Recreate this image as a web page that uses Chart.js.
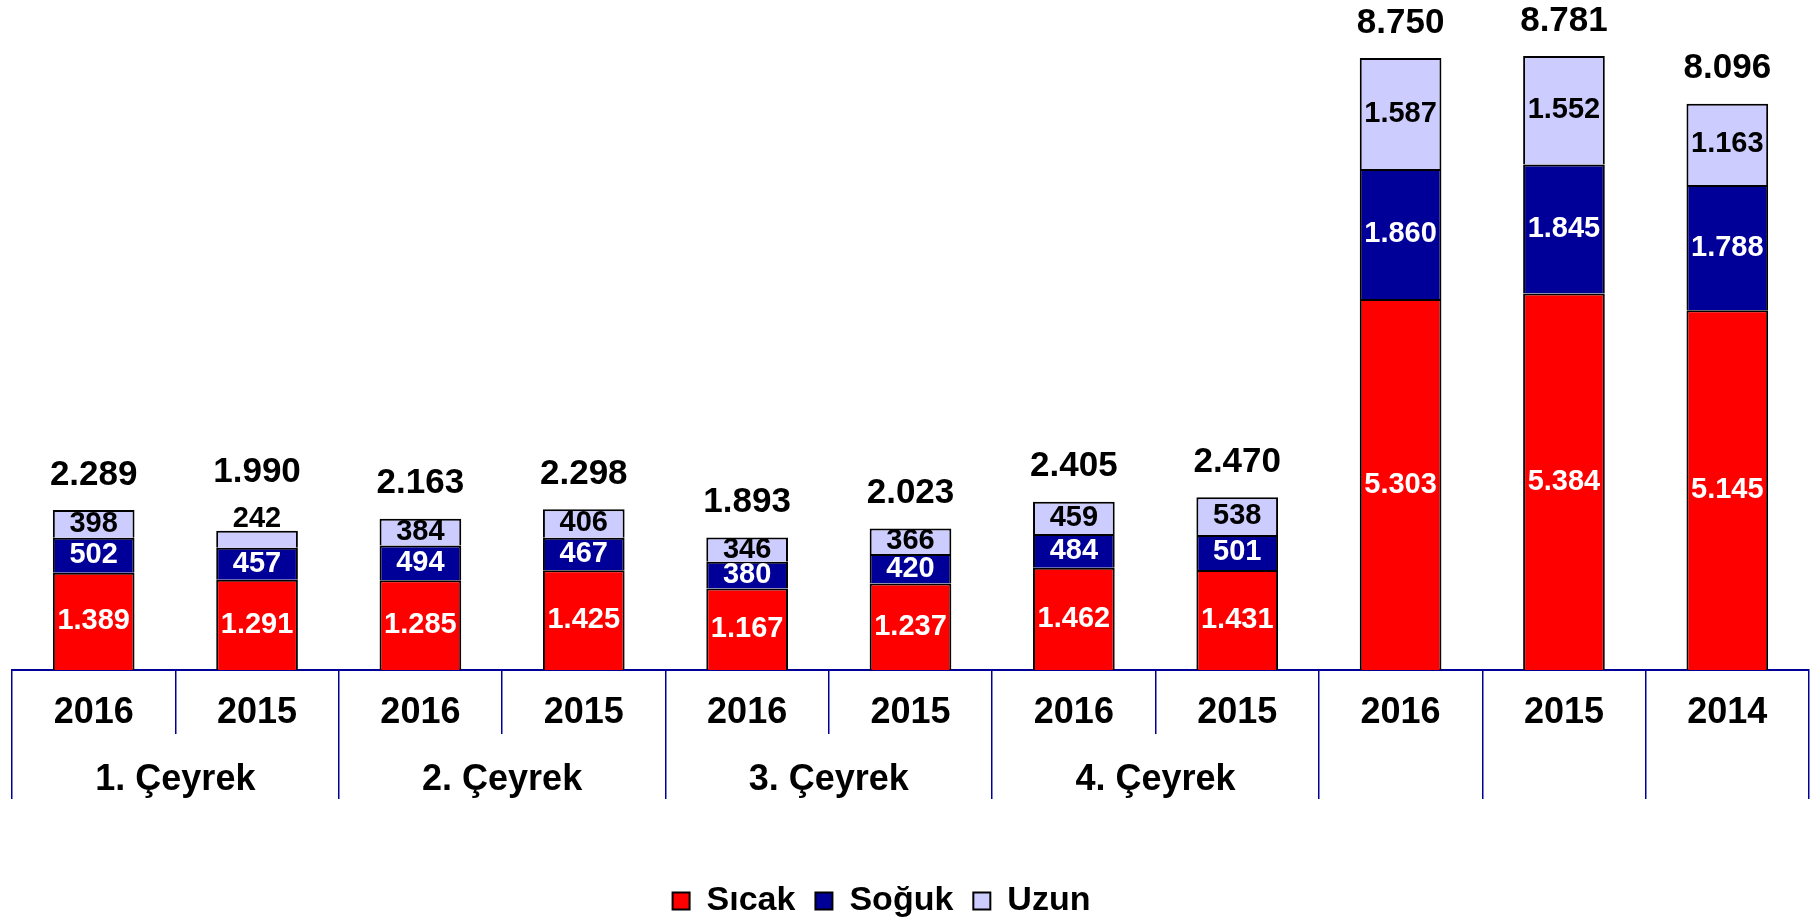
<!DOCTYPE html>
<html lang="tr">
<head>
<meta charset="UTF-8">
<title>Sıcak / Soğuk / Uzun</title>
<script src="https://cdn.jsdelivr.net/npm/chart.js"></script>
<style>
  html, body { margin: 0; padding: 0; background: #fff; }
  #wrap { width: 1810px; height: 921px; }
</style>
</head>
<body>
<div id="wrap"><canvas id="myChart" width="1810" height="921"></canvas></div>
<script>
const years = ['2016', '2015', '2016', '2015', '2016', '2015', '2016', '2015', '2016', '2015', '2014'];
const groupLabels = ['1. Çeyrek', '2. Çeyrek', '3. Çeyrek', '4. Çeyrek', '', '', ''];
const groupSpans = [2, 2, 2, 2, 1, 1, 1];

const sicak = [1389, 1291, 1285, 1425, 1167, 1237, 1462, 1431, 5303, 5384, 5145];
const soguk = [502, 457, 494, 467, 380, 420, 484, 501, 1860, 1845, 1788];
const uzun = [398, 242, 384, 406, 346, 366, 459, 538, 1587, 1552, 1163];
const totals = [2289, 1990, 2163, 2298, 1893, 2023, 2405, 2470, 8750, 8781, 8096];

const FONT = "'Liberation Sans', Arial, sans-serif";
const LINE = '#000099';

// 1389 -> "1.389"
function fmt(n) {
    return String(n).replace(/\B(?=(\d{3})+(?!\d))/g, '.');
}

// lower axis row: lines at group edges, labels at group centres
const edges = [0];
const centres = [];
groupSpans.forEach(s => {
    const a = edges[edges.length - 1];
    centres.push(a + s / 2);
    edges.push(a + s);
});
const groupTicks = edges.concat(centres).sort((a, b) => a - b);

const valueLabels = {
    id: 'valueLabels',
    afterDatasetsDraw(chart) {
        const ctx = chart.ctx;
        const colors = ['#fff', '#fff', '#000'];
        ctx.save();
        ctx.textAlign = 'center';
        ctx.textBaseline = 'middle';
        for (let i = 0; i < chart.data.labels.length; i++) {
            let top = Infinity;
            let above = null;
            chart.data.datasets.forEach((ds, d) => {
                const bar = chart.getDatasetMeta(d).data[i];
                const h = bar.base - bar.y;
                top = Math.min(top, bar.y);
                ctx.font = 'bold 29px ' + FONT;
                ctx.fillStyle = colors[d];
                if (h < 20) {
                    // too thin: put the number on top of the bar
                    above = bar.y - 12;
                    ctx.fillStyle = '#000';
                    ctx.fillText(fmt(ds.data[i]), bar.x, above);
                } else {
                    ctx.fillText(fmt(ds.data[i]), bar.x, (bar.y + bar.base) / 2);
                }
            });
            const x = chart.getDatasetMeta(0).data[i].x;
            ctx.font = 'bold 35px ' + FONT;
            ctx.fillStyle = '#000';
            ctx.fillText(fmt(totals[i]), x, above !== null ? above - 46 : top - 35);
        }
        ctx.restore();
    }
};

// legend sits a bit left of centre in the original
const legendShift = {
    id: 'legendShift',
    afterLayout(chart) {
        chart.legend.left -= 29;
        chart.legend.right -= 29;
    }
};

const tickFont = { family: FONT, size: 36, weight: 'bold', lineHeight: 1 };

new Chart(document.getElementById('myChart').getContext('2d'), {
    type: 'bar',
    data: {
        labels: years,
        datasets: [
            { label: 'Sıcak', data: sicak, backgroundColor: '#FF0000' },
            { label: 'Soğuk', data: soguk, backgroundColor: '#000099' },
            { label: 'Uzun', data: uzun, backgroundColor: '#CCCCFF' }
        ]
    },
    options: {
        responsive: false,
        animation: false,
        layout: { padding: { left: 12, right: 1, top: 0, bottom: -7 } },
        datasets: {
            bar: { borderColor: '#000', borderWidth: 2, categoryPercentage: 1, barPercentage: 0.5 }
        },
        plugins: {
            legend: {
                position: 'bottom',
                labels: {
                    font: { family: FONT, size: 34, weight: 'bold' },
                    color: '#000',
                    boxWidth: 17,
                    boxHeight: 17,
                    padding: 20
                }
            },
            tooltip: { enabled: false }
        },
        scales: {
            x: {
                stacked: true,
                border: { display: true, color: LINE, width: 2 },
                grid: { offset: true, drawOnChartArea: false, drawTicks: true, tickLength: 64, color: LINE, lineWidth: 1.5 },
                ticks: { color: '#000', font: tickFont, padding: -39, maxRotation: 0, autoSkip: false },
                afterFit: s => { s.height = 64; }
            },
            x2: {
                type: 'linear',
                position: 'bottom',
                weight: 1,
                offset: false,
                min: 0,
                max: years.length,
                border: { display: false },
                grid: {
                    offset: false,
                    drawOnChartArea: false,
                    drawTicks: true,
                    tickLength: 65,
                    lineWidth: 1.5,
                    color: c => (c.tick && edges.includes(c.tick.value)) ? LINE : 'rgba(0,0,0,0)'
                },
                ticks: {
                    color: '#000',
                    font: tickFont,
                    padding: -37,
                    maxRotation: 0,
                    autoSkip: false,
                    callback: v => {
                        const k = centres.indexOf(v);
                        return k >= 0 ? groupLabels[k] : '';
                    }
                },
                afterBuildTicks: s => { s.ticks = groupTicks.map(v => ({ value: v })); },
                afterFit: s => { s.height = 130; }
            },
            y: { stacked: true, display: false, min: 0, max: 9580 }
        }
    },
    plugins: [valueLabels, legendShift]
});
</script>
</body>
</html>
